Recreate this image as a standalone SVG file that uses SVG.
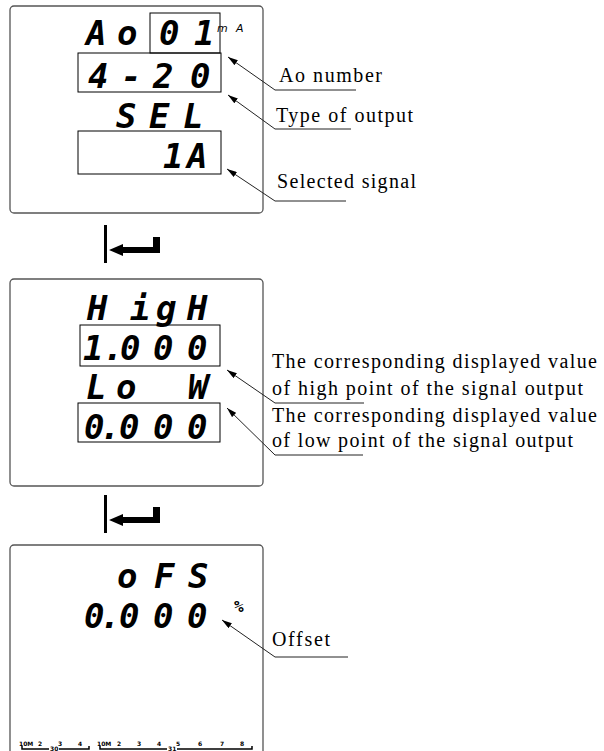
<svg xmlns="http://www.w3.org/2000/svg" width="604" height="751" viewBox="0 0 604 751">
<defs>
<style>
.panel{fill:#fff;stroke:#555;stroke-width:1.3}
.box{fill:none;stroke:#000;stroke-width:1}
.seg{font-family:"DejaVu Sans Mono",monospace;font-weight:bold;font-style:italic;font-size:34px;fill:#000}
.small{font-family:"DejaVu Sans",sans-serif;font-style:italic;font-size:11px;fill:#000}
.lbl{font-family:"Liberation Serif","Times New Roman",serif;font-size:20px;fill:#000}
.con{fill:none;stroke:#222;stroke-width:1}
.tick{font-family:"DejaVu Sans",sans-serif;font-weight:bold;font-size:6px;fill:#000}
.brk{fill:none;stroke:#000;stroke-width:1.5}
</style>
<marker id="ah" viewBox="0 0 10 6" refX="0" refY="3" markerWidth="10" markerHeight="6" markerUnits="userSpaceOnUse" orient="auto">
<path d="M0,3 L10,0 L10,6 Z" fill="#000"/>
</marker>
</defs>

<g id="panel1">
<rect class="panel" x="10" y="6" width="253" height="207" rx="4"/>
<text class="seg" x="86 117" y="45">Ao</text>
<rect class="box" x="150" y="13" width="70" height="40"/>
<text class="seg" x="159 194" y="45">01</text>
<text class="small" x="217 236" y="32">mA</text>
<rect class="box" x="78" y="53" width="143" height="39"/>
<text class="seg" x="88 121 153 190" y="88">4-20</text>
<text class="seg" x="116 149 183" y="128">SEL</text>
<rect class="box" x="78" y="131" width="143" height="43"/>
<text class="seg" x="163 187" y="168">1A</text>
</g>

<g id="enter1">
<rect x="104" y="225" width="3" height="38" fill="#000"/>
<polygon points="109,250 123,244 123,256" fill="#000"/>
<rect x="122" y="247" width="38" height="6" fill="#000"/>
<rect x="153" y="237" width="7" height="16" fill="#000"/>
</g>

<g id="panel2">
<rect class="panel" x="10" y="279" width="253" height="207" rx="4"/>
<text class="seg" x="87 130 156 187" y="320">HigH</text>
<rect class="box" x="80" y="325" width="140" height="41"/>
<text class="seg" x="83 103 120 153 187" y="360">1.000</text>
<text class="seg" x="86 116 188" y="399">LoW</text>
<rect class="box" x="78" y="403" width="142" height="39"/>
<text class="seg" x="84 100 119 153 187" y="439">0.000</text>
</g>

<g id="enter2">
<rect x="104" y="495" width="3" height="38" fill="#000"/>
<polygon points="109,520 123,514 123,526" fill="#000"/>
<rect x="122" y="517" width="38" height="6" fill="#000"/>
<rect x="153" y="507" width="7" height="16" fill="#000"/>
</g>

<g id="panel3">
<rect class="panel" x="10" y="545" width="253" height="230" rx="4"/>
<text class="seg" x="117 154 188" y="588">oFS</text>
<text class="seg" x="84 100 119 153 187" y="628">0.000</text>
<text class="seg" style="font-size:16px" x="234" y="612">%</text>
<g id="scale">
<text class="tick" x="19" y="746">10M</text>
<text class="tick" x="38" y="746">2</text>
<text class="tick" x="58" y="746">3</text>
<text class="tick" x="78" y="746">4</text>
<path class="brk" d="M22,746 V749 H49 M59,749 H89 V746"/>
<text class="tick" x="50" y="751">30</text>
<text class="tick" x="97" y="746">10M</text>
<text class="tick" x="117" y="746">2</text>
<text class="tick" x="137" y="746">3</text>
<text class="tick" x="157" y="746">4</text>
<text class="tick" x="176" y="746">5</text>
<text class="tick" x="198" y="746">6</text>
<text class="tick" x="220" y="746">7</text>
<text class="tick" x="240" y="746">8</text>
<path class="brk" d="M100,746 V749 H167 M177,749 H252 V746"/>
<text class="tick" x="168" y="751">31</text>
</g>
</g>

<g id="label-ao"><text class="lbl" x="279" y="82" textLength="103" lengthAdjust="spacing">Ao number</text></g>
<g id="label-type"><text class="lbl" x="276" y="122" textLength="137" lengthAdjust="spacing">Type of output</text></g>
<g id="label-sel"><text class="lbl" x="277" y="188" textLength="139" lengthAdjust="spacing">Selected signal</text></g>
<g id="label-high">
<text class="lbl" x="272" y="368" textLength="325" lengthAdjust="spacing">The corresponding displayed value</text>
<text class="lbl" x="272" y="395" textLength="311" lengthAdjust="spacing">of high point of the signal output</text>
</g>
<g id="label-low">
<text class="lbl" x="272" y="422" textLength="325" lengthAdjust="spacing">The corresponding displayed value</text>
<text class="lbl" x="272" y="447" textLength="301" lengthAdjust="spacing">of low point of the signal output</text>
</g>
<g id="label-offset"><text class="lbl" x="272" y="646" textLength="58" lengthAdjust="spacing">Offset</text></g>

<g id="connectors">
<polyline class="con" marker-start="url(#ah)" points="228,57 275,90 356,90"/>
<polyline class="con" marker-start="url(#ah)" points="228,95 275,129 351,129"/>
<polyline class="con" marker-start="url(#ah)" points="227,169 275,201 346,201"/>
<polyline class="con" marker-start="url(#ah)" points="227,370 275,403 364,403"/>
<polyline class="con" marker-start="url(#ah)" points="227,408 275,455 363,455"/>
<polyline class="con" marker-start="url(#ah)" points="222,620 275,657 348,657"/>
</g>
</svg>
